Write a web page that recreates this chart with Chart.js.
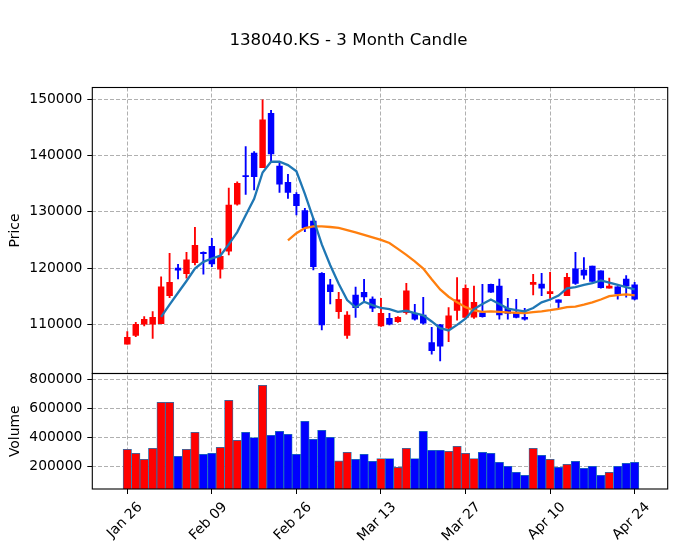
<!DOCTYPE html>
<html>
<head>
<meta charset="utf-8">
<script src="https://cdn.jsdelivr.net/npm/chart.js@4.4.1/dist/chart.umd.min.js"></script>
<style>
  html, body { margin: 0; padding: 0; background: #fff; }
  #wrap { width: 678px; height: 553px; }
</style>
</head>
<body>
<div id="wrap"><canvas id="chart" width="678" height="553"></canvas></div>
<script>
const chartTitle = '138040.KS - 3 Month Candle';

// trading days, Jan 26 .. Apr 24
const dates = [
  'Jan 26', 'Jan 27', 'Jan 28', 'Jan 29', 'Jan 30',
  'Feb 02', 'Feb 03', 'Feb 04', 'Feb 05', 'Feb 06',
  'Feb 09', 'Feb 10', 'Feb 11', 'Feb 12', 'Feb 13',
  'Feb 19', 'Feb 20', 'Feb 23', 'Feb 24', 'Feb 25',
  'Feb 26', 'Feb 27', 'Mar 03', 'Mar 04', 'Mar 05',
  'Mar 06', 'Mar 09', 'Mar 10', 'Mar 11', 'Mar 12',
  'Mar 13', 'Mar 16', 'Mar 17', 'Mar 18', 'Mar 19',
  'Mar 20', 'Mar 23', 'Mar 24', 'Mar 25', 'Mar 26',
  'Mar 27', 'Mar 30', 'Mar 31', 'Apr 01', 'Apr 02',
  'Apr 03', 'Apr 06', 'Apr 07', 'Apr 08', 'Apr 09',
  'Apr 10', 'Apr 13', 'Apr 14', 'Apr 15', 'Apr 16',
  'Apr 17', 'Apr 20', 'Apr 21', 'Apr 22', 'Apr 23',
  'Apr 24'
];
const dateTicks = [0, 10, 20, 30, 40, 50, 60];

const opens = [
  106450, 108000, 110000, 110000, 110100, 115100, 120000, 119000, 120950, 122800,
  123850, 119800, 123000, 131350, 136450, 140450, 137850, 147500, 138150, 135250,
  133100, 130200, 128350, 119050, 117000, 112250, 108000, 115200, 115700, 114500,
  109700, 111050, 110450, 112050, 111950, 111650, 106750, 109900, 109300, 112450,
  111200, 111250, 112050, 117100, 116800, 112850, 111950, 111250, 117100, 117150,
  115450, 114350, 115100, 119850, 119650, 120350, 119500, 116400, 116650, 118050,
  117000
];
const highs = [
  108700, 110350, 111350, 112250, 118450, 122600, 120650, 122800, 127250, 122900,
  125300, 123400, 134200, 135350, 141600, 140700, 149900, 148050, 138800, 136650,
  133400, 130600, 128850, 119200, 118000, 115700, 112250, 116600, 118000, 114900,
  114600, 111950, 111350, 117300, 113550, 114800, 109450, 110000, 112950, 118300,
  117000, 116800, 117100, 117150, 118050, 114600, 114450, 112850, 118900, 119050,
  119250, 114350, 119050, 122800, 121850, 120350, 119500, 118200, 116700, 118650,
  117450
];
const lows = [
  106450, 107800, 109700, 107500, 110100, 114750, 118050, 118200, 120550, 118900,
  120250, 118200, 122350, 131200, 133100, 133900, 137850, 138900, 133450, 132400,
  129450, 126450, 119650, 109000, 113600, 111050, 107500, 111200, 114050, 112250,
  109600, 109900, 110350, 111800, 110750, 110000, 104700, 103500, 106900, 110750,
  111050, 111050, 111250, 115650, 110900, 110900, 111150, 110750, 115200, 115100,
  114600, 112950, 115100, 117100, 118000, 117600, 116400, 116400, 114450, 114800,
  114350
];
const closes = [
  107700, 110000, 110900, 111250, 116650, 117450, 119600, 121450, 124050, 122550,
  120750, 122100, 131200, 135050, 136250, 136250, 146350, 140300, 134900, 133450,
  131100, 127200, 120250, 109900, 115800, 114450, 111650, 112950, 114850, 112850,
  111950, 110000, 111250, 115950, 110900, 110200, 105300, 106100, 111500, 114350,
  116400, 113900, 111350, 115700, 111650, 111950, 111200, 110900, 117450, 116400,
  115800, 113900, 118350, 117250, 118750, 117600, 116500, 116800, 115400, 116800,
  114450
];
const volumes = [
  317000, 290000, 248000, 324000, 641000, 641000, 269000, 317000, 434000, 283000,
  290000, 331000, 655000, 379000, 434000, 398000, 759000, 414000, 441000, 421000,
  283000, 510000, 386000, 448000, 400000, 237000, 297000, 248000, 283000, 234000,
  253000, 253000, 193000, 324000, 253000, 441000, 310000, 310000, 303000, 338000,
  290000, 253000, 297000, 290000, 228000, 200000, 159000, 138000, 324000, 276000,
  248000, 193000, 214000, 234000, 186000, 200000, 138000, 159000, 200000, 221000,
  228000
];

// moving averages as drawn (5 and 20 day)
const ma5 = [
  null, null, null, null, 111300, 113500, 115600, 117700, 119900, 121100,
  121700, 122200, 124200, 126400, 129400, 132300, 137000, 138900, 138900, 138300,
  137200, 133200, 128800, 124200, 120500, 117200, 114300, 113000, 114000, 113400,
  112900, 112700, 112200, 112400, 112000, 111600, 110500, 109300, 108900, 109900,
  111000, 112700, 113600, 114400, 113600, 112800, 112500, 112300, 112900, 113900,
  114400, 115100, 116400, 116600, 117000, 117300, 117800, 117400, 117000, 116600,
  116200
];
const ma20 = [
  null, null, null, null, null, null, null, null, null, null,
  null, null, null, null, null, null, null, null, null, 124900,
  126200, 127100, 127400, 127400, 127300, 127150, 126750, 126350, 125900, 125450,
  125000, 124450, 123400, 122350, 121200, 119900, 118000, 116200, 114900, 113900,
  113050, 112450, 112200, 112300, 112200, 112100, 112050, 112000, 112150, 112300,
  112500, 112750, 113050, 113150, 113500, 113900, 114400, 115000, 115200, 115300,
  115150
];

const priceTicks = [110000, 120000, 130000, 140000, 150000];
const volumeTicks = [200000, 400000, 600000, 800000];

const UP = '#ff0000';
const DOWN = '#0000ff';
const candleColors = closes.map((c, i) => c >= opens[i] ? UP : DOWN);

Chart.defaults.font.family = '"DejaVu Sans", sans-serif';
Chart.defaults.font.size = 13.89;
Chart.defaults.color = '#000';

const titlePlugin = {
    id: 'figTitle',
    afterDraw(chart) {
        const ctx = chart.ctx;
        ctx.save();
        ctx.font = '16.67px "DejaVu Sans"';
        ctx.fillStyle = '#000';
        ctx.textAlign = 'center';
        ctx.textBaseline = 'alphabetic';
        ctx.fillText(chartTitle, 348.5, 45);
        ctx.restore();
    }
};

// black box round each panel, like the matplotlib spines
const framePlugin = {
    id: 'panelFrames',
    afterDraw(chart) {
        const { ctx, chartArea } = chart;
        ctx.save();
        ctx.strokeStyle = '#000';
        ctx.lineWidth = 1.1;
        ['y', 'yv'].forEach(id => {
            const s = chart.scales[id];
            ctx.strokeRect(chartArea.left, s.top, chartArea.right - chartArea.left, s.bottom - s.top);
        });
        ctx.restore();
    }
};

const gridOpts = {
    color: '#b0b0b0',
    lineWidth: 1,
    tickColor: '#000',
    tickLength: 5,
    tickWidth: 1
};

function yScale(min, max, ticks, weight, label) {
    return {
        type: 'linear',
        position: 'left',
        stack: 'panels',
        stackWeight: weight,
        min,
        max,
        afterBuildTicks: s => { s.ticks = ticks.map(v => ({ value: v })); },
        afterFit: s => { s.width = 92.3; },
        ticks: { padding: 5, callback: v => String(v) },
        grid: gridOpts,
        border: { display: false, dash: [4, 2] },
        title: { display: true, text: label, padding: { top: 7.5, bottom: 0 } }
    };
}

new Chart(document.getElementById('chart'), {
    type: 'bar',
    data: {
        datasets: [
            {
                type: 'line',
                label: 'MA5',
                data: ma5.map((v, i) => ({ x: i, y: v })),
                yAxisID: 'y',
                borderColor: '#1f77b4',
                borderWidth: 2.3,
                pointRadius: 0,
                order: 0
            },
            {
                type: 'line',
                label: 'MA20',
                data: ma20.map((v, i) => ({ x: i, y: v })),
                yAxisID: 'y',
                borderColor: '#ff7f0e',
                borderWidth: 2.3,
                pointRadius: 0,
                order: 0
            },
            {
                label: 'Body',
                data: opens.map((o, i) => ({ x: i, y: [o, closes[i]] })),
                yAxisID: 'y',
                backgroundColor: candleColors,
                barThickness: 5.8,
                grouped: false,
                order: 1
            },
            {
                label: 'Wick',
                data: lows.map((l, i) => ({ x: i, y: [l, highs[i]] })),
                yAxisID: 'y',
                backgroundColor: candleColors,
                barThickness: 1.2,
                grouped: false,
                order: 2
            },
            {
                label: 'Volume',
                data: volumes.map((v, i) => ({ x: i, y: v })),
                yAxisID: 'yv',
                backgroundColor: candleColors,
                borderColor: '#1f77b4',
                borderWidth: 0.8,
                borderSkipped: false,
                barThickness: 8.45,
                grouped: false,
                order: 3
            }
        ]
    },
    options: {
        responsive: false,
        animation: false,
        layout: { padding: { top: 87.5, right: 10.3, bottom: 0, left: 0 } },
        plugins: {
            legend: { display: false },
            tooltip: { enabled: false },
            title: { display: false }
        },
        scales: {
            x: {
                type: 'linear',
                min: -4.14,
                max: 63.91,
                offset: false,
                afterBuildTicks: s => { s.ticks = dateTicks.map(v => ({ value: v })); },
                afterFit: s => { s.height = 64; },
                ticks: {
                    autoSkip: false,
                    minRotation: 45,
                    maxRotation: 45,
                    labelOffset: 13,
                    padding: 5,
                    callback: v => dates[v]
                },
                grid: Object.assign({ offset: false }, gridOpts),
                border: { display: false, dash: [4, 2] }
            },
            yv: yScale(43450, 840000, volumeTicks, 115.5, 'Volume'),
            y: yScale(101250, 152100, priceTicks, 286, 'Price')
        }
    },
    plugins: [titlePlugin, framePlugin]
});
</script>
</body>
</html>
